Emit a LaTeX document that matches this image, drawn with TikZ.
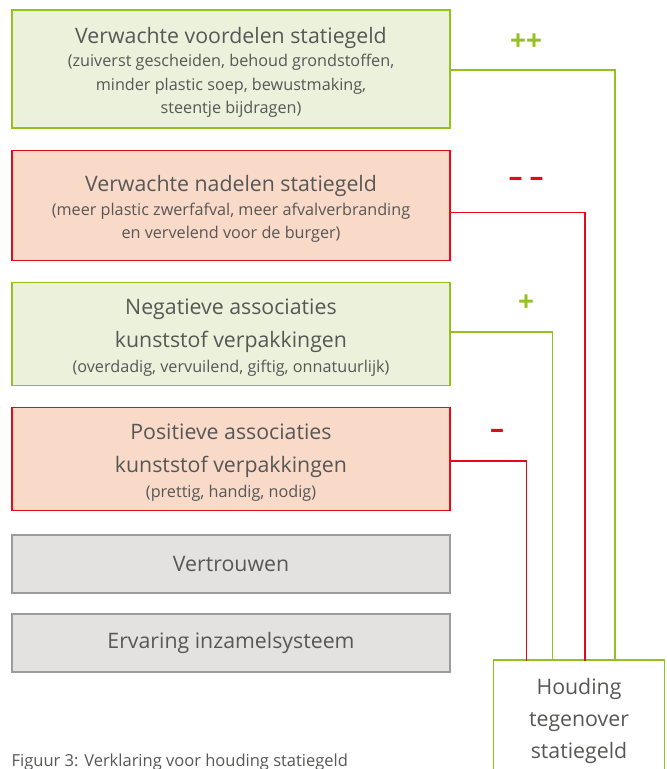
\documentclass[tikz,border=0pt]{standalone}
\usepackage{fontspec}
\setmainfont{Open Sans}
\usepackage{xcolor}
\usetikzlibrary{positioning}
\definecolor{limegreen}{HTML}{95C11F}
\definecolor{lightgreen}{HTML}{EBF1DB}
\definecolor{signalred}{HTML}{E30B17}
\definecolor{lightpink}{HTML}{F9D9C8}
\definecolor{boxgray}{HTML}{E3E2E1}
\definecolor{bordergray}{HTML}{9D9C9C}
\definecolor{textgray}{HTML}{575756}
\newcommand{\kopfont}{\fontsize{21.3}{32}\selectfont}
\newcommand{\toelfont}{\fontsize{16.2}{23.5}\selectfont}
\newcommand{\kopstrut}{\rule{0pt}{23pt}}

\begin{document}
\begin{tikzpicture}[x=1pt, y=-1pt, line cap=rect,
    factor/.style={draw, line width=1.6pt, minimum width=438pt, align=center, text=textgray,
                   inner sep=0pt, font=\toelfont},
    pro/.style={factor, draw=limegreen, fill=lightgreen},
    contra/.style={factor, draw=signalred, fill=lightpink},
    neutraal/.style={factor, draw=bordergray, fill=boxgray, font=\kopfont},
    greenlink/.style={draw=limegreen, line width=1.3pt},
    redlink/.style={draw=signalred, line width=1.5pt},
    teken/.style={font=\fontsize{28}{28}\selectfont\bfseries}]
    \useasboundingbox (0,0) rectangle (667,769);
    \clip (0,0) rectangle (667,769);

    % factors (left column)
    \node[pro, minimum height=118pt] (voordelen) at (231,69)
        {\kopstrut{\kopfont Verwachte voordelen statiegeld}\\[0pt]
         (zuiverst gescheiden, behoud grondstoffen,\\
         minder plastic soep, bewustmaking,\\
         steentje bijdragen)};
    \node[contra, minimum height=110pt] (nadelen) at (231,205.5)
        {\kopstrut{\kopfont Verwachte nadelen statiegeld}\\[0pt]
         (meer plastic zwerfafval, meer afvalverbranding\\
         en vervelend voor de burger)};
    \node[pro, minimum height=103pt] (negatief) at (231,334)
        {\kopstrut{\kopfont Negatieve associaties}\\[9pt]
         {\kopfont kunststof verpakkingen}\\[2pt]
         (overdadig, vervuilend, giftig, onnatuurlijk)};
    \node[contra, minimum height=103pt] (positief) at (231,459)
        {\kopstrut{\kopfont Positieve associaties}\\[9pt]
         {\kopfont kunststof verpakkingen}\\[2pt]
         (prettig, handig, nodig)};
    \node[neutraal, minimum height=58pt] (vertrouwen) at (231,564) {Vertrouwen};
    \node[neutraal, minimum height=58pt] (ervaring) at (231,643) {Ervaring inzamelsysteem};

    % attitude box (bottom right, cut off by the page)
    \node[draw=limegreen, fill=white, line width=1.6pt, minimum width=171pt, minimum height=122pt,
          align=center, text=textgray, inner sep=0pt, font=\kopfont] (houding) at (579,721)
        {Houding\\ tegenover\\ statiegeld};

    % entry points on top of the attitude box
    \coordinate (in1) at (615,660);
    \coordinate (in2) at (585,660);
    \coordinate (in3) at (552.5,660);
    \coordinate (in4) at (526.5,660);

    % connectors
    \draw[greenlink] ([yshift=-1pt]voordelen.east) -| (in1);
    \draw[redlink] ([yshift=-7pt]nadelen.east) -| (in2);
    \draw[greenlink] ([yshift=2pt]negatief.east) -| (in3);
    \draw[redlink] ([yshift=-2pt]positief.east) -| (in4);

    % signs
    \node[teken, text=limegreen] (plusplus) at (526,42) {++};
    \node[teken, text=signalred] (minmin) at (526,182) {–\hspace{7pt}–};
    \node[teken, text=limegreen] (plus) at (526,303) {+};
    \node[teken, text=signalred] (min) at (497,434) {–};

    % caption
    \node[anchor=base west, inner sep=0pt, text=textgray, font=\fontsize{16.5}{18}\selectfont] (bijschrift) at (11.5,766)
        {Figuur 3: Verklaring voor houding statiegeld};
\end{tikzpicture}
\end{document}
